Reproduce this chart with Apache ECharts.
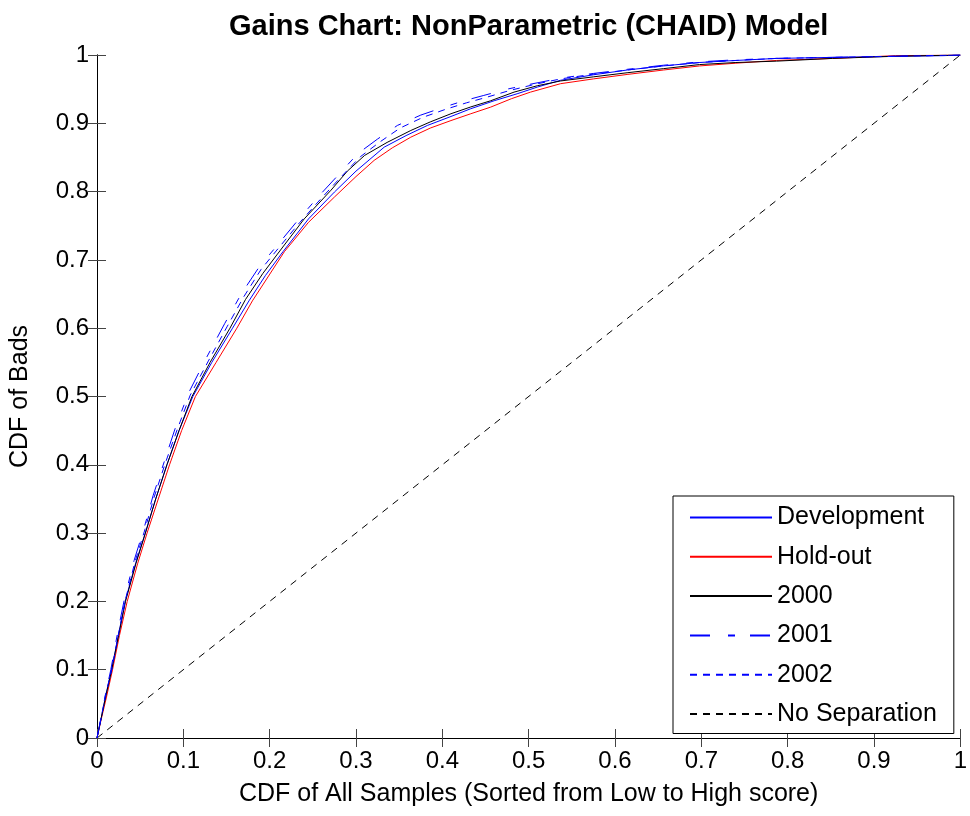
<!DOCTYPE html>
<html>
<head>
<meta charset="utf-8">
<script src="https://cdn.jsdelivr.net/npm/echarts@6/dist/echarts.min.js"></script>
<style>
html,body{margin:0;padding:0;background:#fff;}
#chart{width:970px;height:816px;}
</style>
</head>
<body>
<div id="chart"></div>
<script>
const titleText = 'Gains Chart: NonParametric (CHAID) Model';
const xAxisTitle = 'CDF of All Samples (Sorted from Low to High score)';
const yAxisTitle = 'CDF of Bads';
const seriesNames = ['Development', 'Hold-out', '2000', '2001', '2002', 'No Separation'];

const development = [[0,0],[0.005,0.03],[0.010,0.062],[0.017,0.10],[0.025,0.152],[0.033,0.202],[0.045,0.257],[0.056,0.30],[0.068,0.35],[0.081,0.40],[0.095,0.45],[0.111,0.50],[0.133,0.55],[0.157,0.60],[0.176,0.64],[0.195,0.677],[0.2154,0.712],[0.245,0.76],[0.275,0.7993],[0.30,0.83],[0.3327,0.8651],[0.358,0.882],[0.3828,0.8969],[0.41,0.91],[0.4328,0.9213],[0.46,0.933],[0.4866,0.9432],[0.51,0.953],[0.537,0.963],[0.575,0.971],[0.614,0.978],[0.656,0.984],[0.698,0.989],[0.74,0.992],[0.787,0.995],[0.852,0.9965],[0.921,0.998],[0.98,0.999],[1,1]];

const holdOut = [[0,0],[0.005,0.028],[0.011,0.06],[0.018,0.10],[0.026,0.15],[0.035,0.20],[0.047,0.255],[0.058,0.30],[0.071,0.35],[0.084,0.40],[0.098,0.45],[0.114,0.50],[0.138,0.55],[0.162,0.60],[0.18,0.64],[0.198,0.675],[0.217,0.712],[0.245,0.755],[0.275,0.792],[0.30,0.822],[0.321,0.8457],[0.342,0.864],[0.3635,0.8797],[0.386,0.893],[0.41,0.904],[0.433,0.914],[0.456,0.9237],[0.48,0.936],[0.502,0.9456],[0.537,0.958],[0.575,0.965],[0.614,0.9715],[0.656,0.978],[0.698,0.984],[0.74,0.988],[0.787,0.992],[0.852,0.995],[0.925,0.999],[1,1]];

const y2000 = [[0,0],[0.005,0.03],[0.010,0.06],[0.017,0.10],[0.025,0.15],[0.033,0.20],[0.045,0.255],[0.056,0.30],[0.068,0.35],[0.081,0.40],[0.095,0.45],[0.110,0.50],[0.131,0.55],[0.154,0.60],[0.172,0.642],[0.192,0.68],[0.2135,0.716],[0.24,0.76],[0.271,0.802],[0.29,0.83],[0.31,0.853],[0.336,0.872],[0.3635,0.8895],[0.386,0.902],[0.41,0.914],[0.433,0.924],[0.456,0.933],[0.483,0.9456],[0.51,0.955],[0.537,0.962],[0.575,0.968],[0.614,0.974],[0.656,0.98],[0.698,0.986],[0.74,0.989],[0.787,0.991],[0.852,0.995],[0.921,0.998],[1,1]];

const y2001 = [[0,0],[0.005,0.032],[0.010,0.065],[0.016,0.10],[0.024,0.155],[0.032,0.205],[0.043,0.26],[0.054,0.305],[0.065,0.355],[0.078,0.405],[0.091,0.455],[0.106,0.505],[0.126,0.555],[0.148,0.607],[0.167,0.65],[0.188,0.69],[0.2097,0.7227],[0.232,0.757],[0.2559,0.792],[0.28,0.825],[0.302,0.8555],[0.325,0.877],[0.348,0.8969],[0.375,0.912],[0.402,0.9237],[0.425,0.933],[0.448,0.9408],[0.475,0.95],[0.505,0.958],[0.537,0.966],[0.575,0.973],[0.614,0.979],[0.656,0.985],[0.698,0.99],[0.74,0.993],[0.787,0.995],[0.852,0.9965],[0.921,0.998],[1,1]];

const y2002 = [[0,0],[0.005,0.031],[0.010,0.064],[0.017,0.10],[0.025,0.153],[0.033,0.203],[0.044,0.258],[0.055,0.303],[0.066,0.352],[0.079,0.402],[0.093,0.452],[0.108,0.502],[0.129,0.552],[0.151,0.603],[0.17,0.646],[0.19,0.686],[0.212,0.72],[0.235,0.755],[0.259,0.789],[0.283,0.822],[0.305,0.851],[0.328,0.873],[0.351,0.893],[0.378,0.909],[0.405,0.921],[0.428,0.93],[0.451,0.938],[0.478,0.948],[0.507,0.957],[0.537,0.965],[0.575,0.972],[0.614,0.978],[0.656,0.984],[0.698,0.989],[0.74,0.992],[0.787,0.995],[0.852,0.9965],[0.921,0.998],[1,1]];

const noSeparation = [[0,0],[1,1]];

const FONT = '"Liberation Sans", Arial, Helvetica, sans-serif';
const chart = echarts.init(document.getElementById('chart'), null, {renderer: 'canvas'});

function fmt(v){ return String(Math.round(v*10)/10); }

function mkLine(name, data, color, type, z){
  return {
    name: name, type: 'line', data: data, xAxisIndex: 0, yAxisIndex: 0,
    symbol: 'none', showSymbol: false, smooth: false, z: z,
    lineStyle: {color: color, width: 1, type: type},
    itemStyle: {color: color},
    emphasis: {disabled: true}
  };
}

const axisCommon = {
  type: 'value', min: 0, max: 1, interval: 0.1,
  axisLine: {show: true, lineStyle: {color: '#000', width: 1}},
  axisTick: {show: true, inside: true, length: 9, lineStyle: {color: '#444', width: 1}},
  splitLine: {show: false}
};

chart.setOption({
  animation: false,
  backgroundColor: '#fff',
  title: {
    text: titleText, left: 224, top: 7,
    textStyle: {fontFamily: FONT, fontSize: 29, fontWeight: 'bold', color: '#000'}
  },
  grid: {left: 95, right: 8, top: 55, bottom: 78, containLabel: false},
  legend: {
    orient: 'vertical', left: 673, top: 496,
    data: seriesNames,
    itemWidth: 82, itemHeight: 14, itemGap: 14.3,
    padding: [9, 17, 7, 16],
    borderColor: '#000', borderWidth: 1, backgroundColor: '#fff',
    itemStyle: {opacity: 0, borderWidth: 0},
    textStyle: {fontFamily: FONT, fontSize: 25, color: '#000', lineHeight: 24},
    selectedMode: false
  },
  xAxis: [
    Object.assign({}, axisCommon, {
      position: 'bottom',
      name: xAxisTitle, nameLocation: 'middle', nameGap: 44,
      nameTextStyle: {fontFamily: FONT, fontSize: 25, color: '#000'},
      axisLabel: {fontFamily: FONT, fontSize: 24, color: '#000', margin: 11, formatter: fmt}
    }),
    Object.assign({}, axisCommon, {
      position: 'top', axisLabel: {show: false}
    })
  ],
  yAxis: [
    Object.assign({}, axisCommon, {
      position: 'left',
      name: yAxisTitle, nameLocation: 'middle', nameGap: 64, nameRotate: 90,
      nameTextStyle: {fontFamily: FONT, fontSize: 25, color: '#000'},
      axisLabel: {fontFamily: FONT, fontSize: 24, color: '#000', margin: 8, formatter: fmt}
    }),
    Object.assign({}, axisCommon, {
      position: 'right', axisLabel: {show: false}
    })
  ],
  series: [
    mkLine('Development', development, '#0000ff', 'solid', 4),
    mkLine('Hold-out', holdOut, '#ff0000', 'solid', 3),
    mkLine('2000', y2000, '#000000', 'solid', 5),
    mkLine('2001', y2001, '#0000ff', [20, 18, 7, 15], 6),
    mkLine('2002', y2002, '#0000ff', [7, 6], 6),
    mkLine('No Separation', noSeparation, '#000000', [7, 6], 2)
  ]
});
</script>
</body>
</html>
